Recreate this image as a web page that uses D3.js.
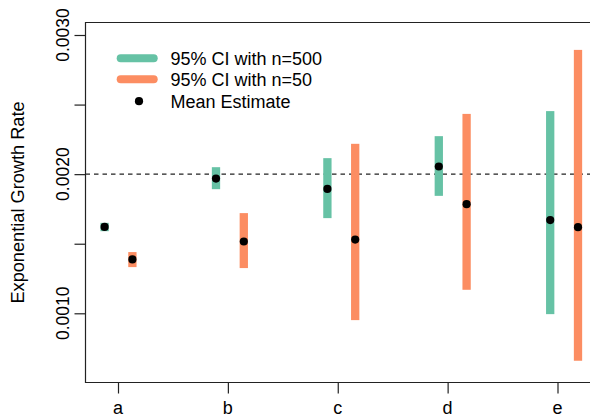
<!DOCTYPE html>
<html><head><meta charset="utf-8">
<script src="https://cdn.jsdelivr.net/npm/d3@7"></script>
<style>body{margin:0;background:#fff}svg{display:block}text{font-family:"Liberation Sans",Arial,sans-serif;fill:#000}</style>
</head><body><div id="c"></div>
<script>
const categories = ["a","b","c","d","e"];
// n=500
const mean500 = [0.001621, 0.001968, 0.001894, 0.002055, 0.001670];
const lo500   = [0.001590, 0.001892, 0.001684, 0.001844, 0.000994];
const hi500   = [0.001650, 0.002050, 0.002115, 0.002273, 0.002453];
// n=50
const mean50 = [0.001387, 0.001516, 0.001530, 0.001784, 0.001619];
const lo50   = [0.001332, 0.001325, 0.000951, 0.001169, 0.000659];
const hi50   = [0.001440, 0.001720, 0.002218, 0.002433, 0.002893];
const yTicks = [0.0010, 0.0015, 0.0020, 0.0025, 0.0030];
const yLabelTicks = [0.0010, 0.0020, 0.0030];
const refLine = 0.0020;
const legendItems = ["95% CI with n=500", "95% CI with n=50", "Mean Estimate"];
const green = "#66c2a5", orange = "#fc8d62";

const W = 590, H = 417;
const svg = d3.select("#c").append("svg").attr("width", W).attr("height", H);
const box = {l: 85.5, t: 22.5, b: 382.5, r: 600};

const y = d3.scaleLinear().domain([0.001, 0.003]).range([313.3, 35.0]);
const xTick = d3.scalePoint().domain(categories).range([118, 557.5]);
const xBar = d3.scaleLinear().domain([0, 4]).range([118.5, 564.1]);
const off = 13.9;

// box
svg.append("path").attr("d", `M${box.r},${box.t}H${box.l}V${box.b}H${box.r}`)
  .attr("fill","none").attr("stroke","#222").attr("stroke-width",1.2);

// y axis
const yAxis = d3.axisLeft(y).tickValues(yTicks).tickSize(11).tickFormat("");
const gy = svg.append("g").attr("transform",`translate(${box.l},0)`).call(yAxis);
gy.select(".domain").remove();
gy.selectAll(".tick line").attr("stroke","#222").attr("stroke-width",1.2);
svg.selectAll(".ylab").data(yLabelTicks).join("text")
  .attr("transform", d => `translate(68.5,${y(d)}) rotate(-90)`)
  .attr("text-anchor","middle").attr("font-size",17.5).text(d => d3.format(".4f")(d));
svg.append("text").attr("transform",`translate(23.5,${(box.t+box.b)/2}) rotate(-90)`)
  .attr("text-anchor","middle").attr("font-size",18.2).text("Exponential Growth Rate");

// x axis
const xAxis = d3.axisBottom(xTick).tickSize(11).tickFormat("");
const gx = svg.append("g").attr("transform",`translate(0,${box.b})`).call(xAxis);
gx.select(".domain").remove();
gx.selectAll(".tick line").attr("stroke","#222").attr("stroke-width",1.2);
svg.selectAll(".xlab").data(categories).join("text")
  .attr("x", d => xTick(d)).attr("y", 414).attr("text-anchor","middle")
  .attr("font-size",18).text(d => d);

// reference line
svg.append("line").attr("x1",box.l).attr("x2",W).attr("y1",y(refLine)).attr("y2",y(refLine))
  .attr("stroke","#222").attr("stroke-width",1.2).attr("stroke-dasharray","4.5,4");

// bars
const bw = 8.3;
function drawSeries(lo, hi, dx, col){
  svg.append("g").selectAll("rect").data(categories).join("rect")
    .attr("x",(d,i)=>xBar(i)+dx-bw/2).attr("width",bw)
    .attr("y",(d,i)=>y(hi[i])).attr("height",(d,i)=>y(lo[i])-y(hi[i]))
    .attr("fill",col);
}
drawSeries(lo500, hi500, -off, green);
drawSeries(lo50, hi50, off, orange);
svg.append("g").selectAll("circle").data(mean500).join("circle")
  .attr("cx",(d,i)=>xBar(i)-off).attr("cy",d=>y(d)).attr("r",4.1).attr("fill","#000");
svg.append("g").selectAll("circle").data(mean50).join("circle")
  .attr("cx",(d,i)=>xBar(i)+off).attr("cy",d=>y(d)).attr("r",4.1).attr("fill","#000");

// legend
const leg = svg.append("g");
const ly = [58.3, 79.3, 101.2];
leg.append("line").attr("x1",120.7).attr("x2",153.7).attr("y1",ly[0]).attr("y2",ly[0])
  .attr("stroke",green).attr("stroke-width",8).attr("stroke-linecap","round");
leg.append("line").attr("x1",120.7).attr("x2",153.7).attr("y1",ly[1]).attr("y2",ly[1])
  .attr("stroke",orange).attr("stroke-width",8).attr("stroke-linecap","round");
leg.append("circle").attr("cx",139).attr("cy",ly[2]).attr("r",4.1).attr("fill","#000");
leg.selectAll("text").data(legendItems).join("text")
  .attr("x",170.5).attr("y",(d,i)=>ly[i]+6.4).attr("font-size",18).text(d=>d);
</script></body></html>
